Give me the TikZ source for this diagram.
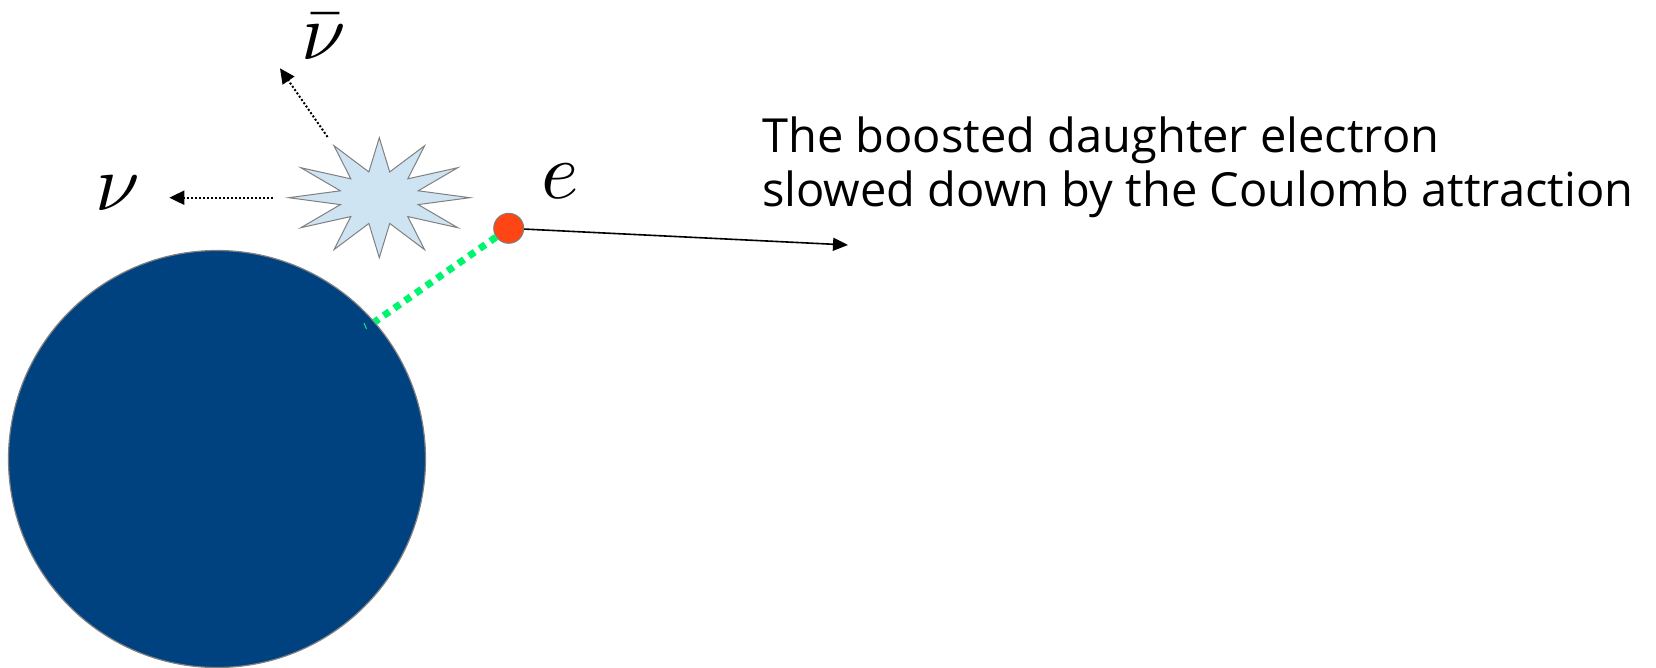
\documentclass[tikz,border=0pt]{standalone}
\usepackage{fontspec}
\newfontfamily\notefont{Open Sans}
\usetikzlibrary{arrows.meta,shapes.geometric,calc}
\definecolor{NucBlue}{RGB}{0,66,128}
\definecolor{ElecRed}{RGB}{255,69,19}
\definecolor{FlashBlue}{RGB}{207,228,242}
\definecolor{FieldGreen}{RGB}{0,245,110}
\definecolor{EdgeGray}{RGB}{128,128,128}

\begin{document}
\begin{tikzpicture}[x=1pt,y=-1pt,
  nuline/.style={line width=2pt,dash pattern=on 2pt off 2pt,-{Triangle[length=15pt,width=14pt]}},
  eline/.style={line width=1.6pt,-{Triangle[length=15pt,width=13pt]}},
  biglabel/.style={scale=8,anchor=base,inner sep=0}]
  \useasboundingbox (0,0) rectangle (1656,668);

  \node[circle,fill=NucBlue,draw=EdgeGray,line width=1.2pt,minimum size=417pt,inner sep=0] (nucleus) at (217,459) {};
  \node[star,star points=12,star point ratio=2.25,minimum size=120pt,inner sep=0,xscale=1.51,draw=EdgeGray,fill=FlashBlue,line width=1pt] (flash) at (379.3,197.7) {};
  \node[circle,fill=ElecRed,draw=EdgeGray,line width=1pt,minimum size=30pt,inner sep=0] (elec) at (508.7,228.3) {};

  \node[biglabel] (nubar) at (323.7,60) {$\bar\nu$};
  \node[biglabel] (nu) at (118,211) {$\nu$};
  \node[biglabel] (e) at (560,198.5) {$e$};
  \node[font=\notefont\fontsize{47}{54}\selectfont,align=left,anchor=north west,inner sep=0] (caption) at (762,117)
    {The boosted daughter electron\\slowed down by the Coulomb attraction};

  \coordinate (nubarend) at (280,68.3);
  \coordinate (nuend) at (169.3,197.7);
  \coordinate (eend) at (848,245);

  \draw[FieldGreen,line width=7pt,dash pattern=on 7pt off 6pt] (elec) -- (nucleus.41.6);
  \draw[FieldGreen,line width=1pt] (364,323) -- (366.5,329);
  \draw[nuline,shorten <=8pt] (flash.outer point 2) -- (nubarend);
  \draw[nuline,shorten <=12pt] (flash.west) -- (nuend);
  \draw[eline] (elec) -- (eend);
\end{tikzpicture}
\end{document}
